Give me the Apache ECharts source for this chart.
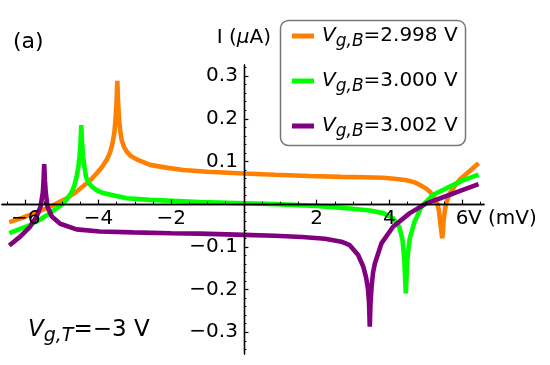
<!DOCTYPE html>
<html>
<head>
<meta charset="utf-8">
<script src="https://cdn.jsdelivr.net/npm/echarts@6/dist/echarts.min.js"></script>
<style>
  html, body { margin: 0; padding: 0; background: #fff; }
  #chart { width: 550px; height: 365px; }
</style>
</head>
<body>
<div id="chart"></div>
<script>
// gate voltages of the three curves and their colours
const gateB = ['2.998', '3.000', '3.002'];
const colors = ['#ff8000', '#00ff00', '#800080'];

// V (mV) / I (uA)
const vOrange = [-6.45, -6.15, -5.88, -5.6, -5.33, -5.1, -4.87, -4.65, -4.42, -4.22, -4.05, -3.9, -3.77, -3.68, -3.61, -3.56, -3.53, -3.5, -3.48, -3.46, -3.43, -3.4, -3.36, -3.3, -3.22, -3.1, -2.95, -2.58, -2.1, -1.67, -1.0, 0, 0.85, 1.8, 2.68, 3.3, 3.83, 4.2, 4.47, 4.7, 4.84, 5.0, 5.11, 5.2, 5.27, 5.32, 5.36, 5.4, 5.43, 5.45, 5.47, 5.49, 5.52, 5.55, 5.6, 5.66, 5.8, 5.93, 6.2, 6.45];
const iOrange = [-0.042, -0.034, -0.025, -0.016, -0.006, 0.004, 0.014, 0.026, 0.042, 0.056, 0.072, 0.087, 0.104, 0.121, 0.143, 0.168, 0.197, 0.24, 0.289, 0.24, 0.197, 0.172, 0.15, 0.135, 0.123, 0.112, 0.105, 0.092, 0.085, 0.08, 0.076, 0.072, 0.069, 0.066, 0.064, 0.063, 0.062, 0.059, 0.056, 0.051, 0.045, 0.037, 0.029, 0.02, 0.01, 0.0, -0.014, -0.045, -0.065, -0.08, -0.065, -0.037, -0.018, -0.002, 0.012, 0.026, 0.043, 0.057, 0.077, 0.096];

const vGreen = [-6.45, -6.15, -5.88, -5.6, -5.33, -5.15, -4.96, -4.85, -4.73, -4.66, -4.6, -4.55, -4.52, -4.49, -4.47, -4.45, -4.42, -4.38, -4.34, -4.27, -4.18, -4.05, -3.87, -3.5, -3.22, -2.58, -1.21, 0, 0.85, 2.0, 2.91, 3.46, 3.83, 4.1, 4.27, 4.36, 4.41, 4.45, 4.49, 4.56, 4.69, 4.88, 5.2, 5.66, 6.0, 6.45];
const iGreen = [-0.068, -0.058, -0.049, -0.036, -0.021, -0.01, 0.002, 0.013, 0.029, 0.044, 0.064, 0.088, 0.111, 0.145, 0.185, 0.145, 0.111, 0.085, 0.064, 0.05, 0.041, 0.033, 0.026, 0.019, 0.014, 0.01, 0.005, 0.002, 0.0, -0.004, -0.01, -0.015, -0.021, -0.033, -0.053, -0.084, -0.131, -0.209, -0.131, -0.08, -0.041, -0.006, 0.022, 0.041, 0.055, 0.069];

const vPurple = [-6.45, -6.15, -5.88, -5.7, -5.59, -5.53, -5.51, -5.49, -5.47, -5.45, -5.4, -5.28, -5.05, -4.6, -3.96, -3.04, -2.0, -1.21, 0, 0.85, 1.6, 2.23, 2.68, 2.91, 3.14, 3.28, 3.36, 3.41, 3.44, 3.46, 3.48, 3.51, 3.55, 3.6, 3.78, 4.1, 4.56, 5.02, 5.66, 6.0, 6.45];
const iPurple = [-0.097, -0.076, -0.053, -0.029, -0.006, 0.026, 0.05, 0.094, 0.055, 0.03, -0.006, -0.029, -0.046, -0.059, -0.064, -0.066, -0.068, -0.069, -0.072, -0.074, -0.077, -0.081, -0.088, -0.096, -0.119, -0.146, -0.172, -0.198, -0.232, -0.287, -0.232, -0.193, -0.16, -0.139, -0.092, -0.053, -0.021, 0.002, 0.022, 0.033, 0.047];

// axis ranges and ticks
const xRange = [-6.65, 6.6];
const yRange = [-0.351, 0.326];
const xMajor = [-6, -4, -2, 2, 4, 6];
const xMinor = [-6.5, -5.5, -5, -4.5, -3.5, -3, -2.5, -1.5, -1, -0.5, 0.5, 1, 1.5, 2.5, 3, 3.5, 4.5, 5, 5.5, 6.5];
const yMajor = [-0.3, -0.2, -0.1, 0.1, 0.2, 0.3];
const yMinor = [-0.34, -0.32, -0.28, -0.26, -0.24, -0.22, -0.18, -0.16, -0.14, -0.12, -0.08, -0.06, -0.04, -0.02, 0.02, 0.04, 0.06, 0.08, 0.12, 0.14, 0.16, 0.18, 0.22, 0.24, 0.26, 0.28, 0.32];

const FONT = "'DejaVu Sans', sans-serif";
const W = 550, H = 365;
const grid = { left: 2, right: 66, top: 65, bottom: 11 };
// axes cross at the origin: shift them from the grid edge to the zero line
const xZero = grid.left + (W - grid.left - grid.right) * (0 - xRange[0]) / (xRange[1] - xRange[0]);
const yZero = grid.top + (H - grid.top - grid.bottom) * (yRange[1] - 0) / (yRange[1] - yRange[0]);
const xOffset = -(H - grid.bottom - yZero);
const yOffset = -(xZero - grid.left);

const minus = s => String(s).replace('-', '\u2212');
const pairs = (xs, ys) => xs.map((x, i) => [x, ys[i]]);
const names = gateB.map(g => 'Vg,B=' + g + ' V');
const curves = [pairs(vOrange, iOrange), pairs(vGreen, iGreen), pairs(vPurple, iPurple)];

const subRich = (size, sub, shift) => ({
  i: { fontStyle: 'italic', fontSize: size, fontFamily: FONT, color: '#000' },
  s: { fontStyle: 'italic', fontSize: sub, fontFamily: FONT, color: '#000', padding: [shift, 0, 0, 0] },
  n: { fontSize: size, fontFamily: FONT, color: '#000' }
});

const lineStyle = { color: '#000', width: 1.3 };
const labelStyle = { fontSize: 20, fontFamily: FONT, color: '#000' };

const chart = echarts.init(document.getElementById('chart'));
chart.setOption({
  animation: false,
  grid: Object.assign({ containLabel: false, outerBoundsMode: 'none' }, grid),
  xAxis: [
    {
      type: 'value', min: xRange[0], max: xRange[1], position: 'bottom', offset: xOffset, z: 10,
      splitLine: { show: false },
      axisLine: { onZero: false, lineStyle: lineStyle },
      name: '{v|V (mV)}', nameLocation: 'end', nameGap: -16, nameMoveOverlap: false,
      nameTextStyle: { align: 'left', verticalAlign: 'middle', rich: { v: Object.assign({ padding: [30, 0, 0, 0] }, labelStyle) } },
      axisTick: { show: true, inside: true, length: 4.5, customValues: xMajor, lineStyle: { color: '#000', width: 1.2 } },
      axisLabel: Object.assign({ customValues: xMajor, formatter: v => minus(v), margin: 5 }, labelStyle)
    },
    {
      type: 'value', min: xRange[0], max: xRange[1], position: 'bottom', offset: xOffset, z: 10,
      splitLine: { show: false },
      axisLine: { onZero: false, lineStyle: lineStyle },
      axisTick: { show: true, inside: true, length: 2.5, customValues: xMinor, lineStyle: { color: '#000', width: 1 } },
      axisLabel: { show: false }
    }
  ],
  yAxis: [
    {
      type: 'value', min: yRange[0], max: yRange[1], position: 'left', offset: yOffset, z: 10,
      splitLine: { show: false },
      axisLine: { onZero: false, lineStyle: lineStyle },
      name: '{n|I (}{m|\u03bc}{n|A)}', nameLocation: 'end', nameGap: 17, nameMoveOverlap: false,
      nameTextStyle: {
        align: 'center', verticalAlign: 'bottom',
        rich: { n: labelStyle, m: Object.assign({ fontStyle: 'italic' }, labelStyle) }
      },
      axisTick: { show: true, inside: true, length: 4.5, customValues: yMajor, lineStyle: { color: '#000', width: 1.2 } },
      axisLabel: Object.assign({ customValues: yMajor, formatter: v => minus(v.toFixed(1)), margin: 6 }, labelStyle)
    },
    {
      type: 'value', min: yRange[0], max: yRange[1], position: 'left', offset: yOffset, z: 10,
      splitLine: { show: false },
      axisLine: { onZero: false, lineStyle: lineStyle },
      axisTick: { show: true, inside: true, length: 2.5, customValues: yMinor, lineStyle: { color: '#000', width: 1 } },
      axisLabel: { show: false }
    }
  ],
  legend: {
    orient: 'vertical', left: 287, top: 21, itemWidth: 22, itemHeight: 5, itemGap: 21,
    icon: 'rect', data: names, z: 5,
    formatter: name => '{i|V}{s|g,B}{n|' + name.slice(4) + '}',
    textStyle: {
      color: '#000', fontSize: 20, fontFamily: FONT,
      rich: (() => { const r = subRich(20, 17, 11); r.i.padding = [0, 0, 0, 3]; return r; })()
    }
  },
  graphic: [
    { type: 'rect', z: 1, shape: { x: 280.5, y: 20.5, width: 185, height: 125, r: 8 }, style: { fill: '#fff', stroke: '#777', lineWidth: 1.5 } },
    { type: 'text', x: 13, y: 42, style: { text: '(a)', fontSize: 22, fontFamily: FONT, fill: '#000', verticalAlign: 'middle' } },
    { type: 'text', x: 28, y: 330, style: { text: '{i|V}{s|g,T}{n|=\u22123 V}', rich: subRich(23, 19, 12), verticalAlign: 'middle' } }
  ],
  series: curves.map((d, k) => ({
    name: names[k],
    type: 'line',
    data: d,
    showSymbol: false,
    color: colors[k],
    lineStyle: { width: 4.6, color: colors[k] },
    emphasis: { disabled: true }
  }))
});
</script>
</body>
</html>
